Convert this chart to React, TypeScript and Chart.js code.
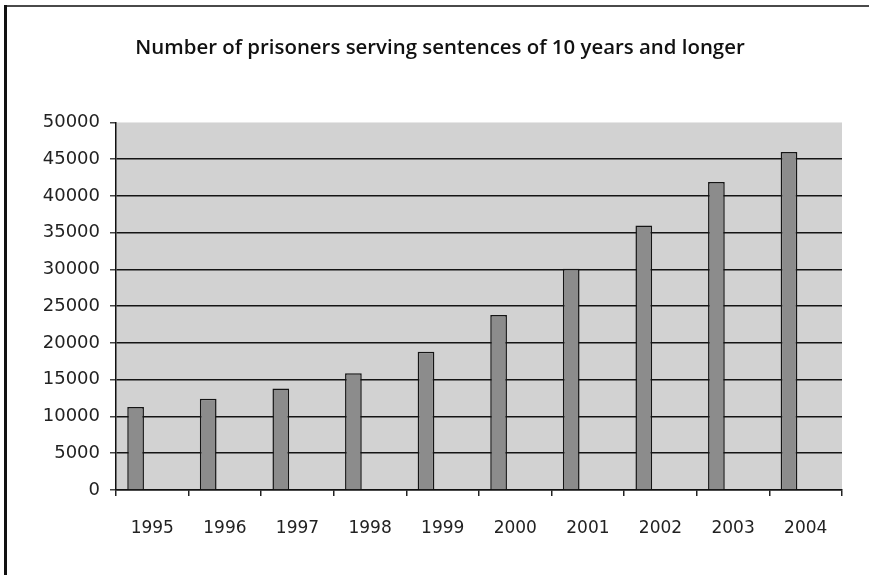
import React, { useEffect, useRef } from "react";
import { Chart, registerables } from "chart.js";

Chart.register(...registerables);

// Yearly counts of prisoners serving sentences of 10 years and longer
const years: string[] = ["1995", "1996", "1997", "1998", "1999", "2000", "2001", "2002", "2003", "2004"];
const prisoners: number[] = [11300, 12400, 13800, 15900, 18800, 23800, 30100, 36000, 41900, 46000];
// Empty second series keeps each bar in the left half of its year slot
const spacer: (number | null)[] = years.map(() => null);

const yMin = 0;
const yMax = 50000;
const yStep = 5000;

const titleText = "Number of prisoners serving sentences of 10 years and longer";

const W = 869;
const H = 575;

const framePlugin = {
  id: "pageFrame",
  beforeDraw(chart: Chart) {
    const { ctx, chartArea } = chart;
    ctx.save();
    ctx.fillStyle = "#ffffff";
    ctx.fillRect(0, 0, W, H);
    // shaded plot area
    ctx.fillStyle = "#d2d2d2";
    ctx.fillRect(chartArea.left, chartArea.top, chartArea.right - chartArea.left, chartArea.bottom - chartArea.top);
    // outer frame: left and top rules
    ctx.strokeStyle = "#4a4a4a";
    ctx.lineWidth = 2;
    ctx.beginPath();
    ctx.moveTo(5, 6);
    ctx.lineTo(W, 6);
    ctx.stroke();
    ctx.strokeStyle = "#111111";
    ctx.lineWidth = 3;
    ctx.beginPath();
    ctx.moveTo(5.5, 5);
    ctx.lineTo(5.5, H);
    ctx.stroke();
    ctx.restore();
  },
};

export default function App() {
  const ref = useRef<HTMLCanvasElement | null>(null);

  useEffect(() => {
    if (!ref.current) return;
    const chart = new Chart(ref.current, {
      type: "bar",
      data: {
        labels: years,
        datasets: [
          {
            label: "Prisoners",
            data: prisoners,
            backgroundColor: "#8c8c8c",
            borderColor: "#151515",
            borderWidth: 1.5,
            categoryPercentage: 0.92,
            barPercentage: 0.5,
          },
          {
            label: "spacer",
            data: spacer,
            backgroundColor: "rgba(0,0,0,0)",
            categoryPercentage: 0.92,
            barPercentage: 0.5,
          },
        ],
      },
      options: {
        responsive: false,
        animation: false,
        layout: { padding: { left: 38, right: 27, top: 0, bottom: 0 } },
        plugins: {
          legend: { display: false },
          tooltip: { enabled: false },
          title: {
            display: true,
            text: titleText,
            color: "#111111",
            font: { family: "'Open Sans', sans-serif", size: 20.4, weight: "600" },
            padding: { top: 36, bottom: 62 },
          },
        },
        scales: {
          x: {
            offset: true,
            grid: {
              offset: true,
              drawOnChartArea: false,
              drawTicks: true,
              tickLength: 6,
              color: "#222222",
              lineWidth: 1.5,
            },
            border: { display: true, color: "#111111", width: 1.5 },
            ticks: {
              color: "#222222",
              font: { family: "'DejaVu Sans', sans-serif", size: 17 },
              padding: 22,
              maxRotation: 0,
            },
            afterFit(scale: any) {
              scale.height = 85;
            },
          },
          y: {
            min: yMin,
            max: yMax,
            grid: {
              color: (c: any) => (c.tick && c.tick.value === yMax ? "rgba(0,0,0,0)" : "#141414"),
              lineWidth: 1.5,
              tickLength: 6,
              tickColor: "#444444",
            },
            border: { display: true, color: "#111111", width: 1.5 },
            ticks: {
              stepSize: yStep,
              color: "#222222",
              padding: 10,
              font: { family: "'DejaVu Sans', sans-serif", size: 18 },
              callback: (v: any) => String(v),
            },
            afterFit(scale: any) {
              scale.width = 78;
            },
          },
        },
      },
      plugins: [framePlugin],
    });
    return () => chart.destroy();
  }, []);

  return (
    <div style={{ position: "absolute", left: 0, top: 0, width: W, height: H }}>
      <canvas ref={ref} width={W} height={H} style={{ display: "block" }} />
    </div>
  );
}
